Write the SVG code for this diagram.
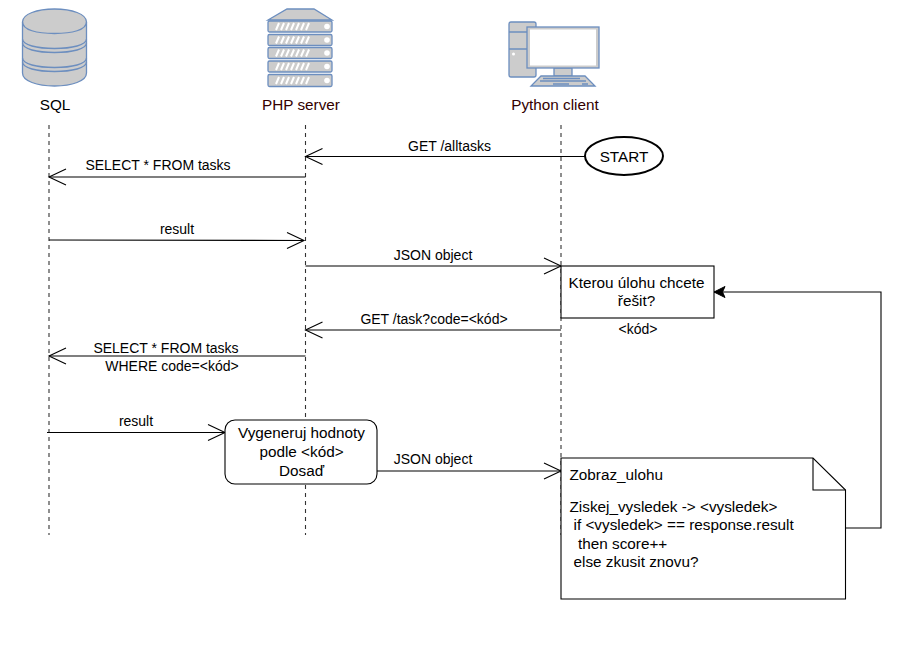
<svg xmlns="http://www.w3.org/2000/svg" width="918" height="663" viewBox="0 0 918 663">
<defs>
<marker id="open" markerUnits="userSpaceOnUse" markerWidth="20" markerHeight="20" refX="17" refY="8" orient="auto" overflow="visible"><path d="M0 0L17 8L0 16" fill="none" stroke="#000" stroke-width="1.1"/></marker>
<marker id="tri" markerUnits="userSpaceOnUse" markerWidth="14" markerHeight="14" refX="11" refY="5.500" orient="auto" overflow="visible"><path d="M0 0L11 5.500L0 11L2.500 5.500Z" fill="#000" stroke="#000"/></marker>
</defs>
<style>
text{font-family:"Liberation Sans",Arial,sans-serif;font-size:15.3px;fill:#000}
.m{text-anchor:middle}
.s{font-size:14px}
.dk{fill:#330000}
.life{stroke:#333;stroke-width:1.100;stroke-dasharray:4 4;fill:none}
.c{fill:none;stroke:#000;stroke-width:1.100}
.g{fill:#ccc;stroke:#6c8ebf;stroke-width:1.300}
.b{fill:#fff;stroke:#000;stroke-width:1.100}
.w{fill:#fff}
.h{stroke:#6c8ebf;stroke-width:1.300;fill:none}
</style>
<rect width="918" height="663" fill="#fff"/>
<g id="lifelines">
<path class="life" d="M49 125V535"/><path class="life" d="M305.500 125V535"/><path class="life" d="M561 125V535"/>
</g>
<g id="sql">
<path class="g" d="M22.500 22C22.500 14 37 9 54.500 9S86.500 14 86.500 22V73C86.500 81 72 86 54.500 86S22.500 81 22.500 73Z"/>
<path class="h" d="M22.500 22C22.500 30 37 33.500 54.500 33.500S86.500 30 86.500 22M22.500 39C22.500 45 37 48.500 54.500 48.500S86.500 45 86.500 39M22.500 43C22.500 49 37 52.500 54.500 52.500S86.500 49 86.500 43M22.500 58C22.500 64 37 67.500 54.500 67.500S86.500 64 86.500 58M22.500 62C22.500 68 37 71.500 54.500 71.500S86.500 68 86.500 62"/>
<text class="m" x="55" y="110">SQL</text>
</g>
<g id="php">
<path class="g" d="M268 20L287 9H314L332 20Z"/>
<rect class="g" x="268" y="21" width="64" height="11" rx="1.500"/><rect class="g" x="268" y="34.500" width="64" height="11" rx="1.500"/><rect class="g" x="268" y="47.500" width="64" height="11" rx="1.500"/><rect class="g" x="268" y="61" width="64" height="11" rx="1.500"/><rect class="g" x="268" y="74.500" width="64" height="12" rx="1.500"/>
<path d="M276 30l3-7M281 30l3-7M286 30l3-7M291 30l3-7M296 30l3-7M301 30l3-7M306 30l3-7M276 43.500l3-7M281 43.500l3-7M286 43.500l3-7M291 43.500l3-7M296 43.500l3-7M301 43.500l3-7M306 43.500l3-7M276 56.500l3-7M281 56.500l3-7M286 56.500l3-7M291 56.500l3-7M296 56.500l3-7M301 56.500l3-7M306 56.500l3-7M276 70l3-7M281 70l3-7M286 70l3-7M291 70l3-7M296 70l3-7M301 70l3-7M306 70l3-7M276 84l3-7M281 84l3-7M286 84l3-7M291 84l3-7M296 84l3-7M301 84l3-7M306 84l3-7" stroke="#fff" stroke-width="2" fill="none"/>
<circle class="w" cx="327" cy="26.500" r="2.800"/><circle class="w" cx="327" cy="40" r="2.800"/><circle class="w" cx="327" cy="53" r="2.800"/><circle class="w" cx="327" cy="66.500" r="2.800"/><circle class="w" cx="327" cy="80.500" r="2.800"/>
<text class="m dk" x="301" y="110">PHP server</text>
</g>
<g id="python">
<path class="g" d="M509 24Q509 22 511 22H534Q536 22 536 24V75Q536 77 534 77H511Q509 77 509 75Z"/>
<path class="h" d="M509 32H527M509 49H527"/>
<circle class="w" cx="513.500" cy="54" r="1.500"/>
<rect class="g" x="554" y="68" width="18" height="8"/>
<rect class="g" x="527" y="27" width="72" height="41"/>
<rect class="w" x="530" y="29.500" width="66" height="36"/>
<path class="g" d="M541 76H585L595 86H531Z"/>
<path d="M543 78.500H580M540 81H586M553 84H569M582 84H588" stroke="#6c8ebf" stroke-width="1.300" fill="none"/>
<text class="m dk" x="555" y="110">Python client</text>
</g>
<g id="connectors">
<path class="c" d="M585 156.500H305.500" marker-end="url(#open)"/>
<path class="c" d="M305.500 177H49" marker-end="url(#open)"/>
<path class="c" d="M49 240L304 240.500" marker-end="url(#open)"/>
<path class="c" d="M305.500 266H561" marker-end="url(#open)"/>
<path class="c" d="M561 330H305.500" marker-end="url(#open)"/>
<path class="c" d="M305.500 356H49" marker-end="url(#open)"/>
<path class="c" d="M47 432.500H225" marker-end="url(#open)"/>
<path class="c" d="M377 471H561" marker-end="url(#open)"/>
<path class="c" d="M846 528H881V292H714" marker-end="url(#tri)"/>
</g>
<g id="start">
<ellipse cx="624" cy="156" rx="39" ry="19" fill="#fff" stroke="#000" stroke-width="2"/>
<text class="m" x="624" y="161.500">START</text>
</g>
<g id="question">
<rect class="b" x="561" y="266" width="153" height="52"/>
<text class="m" x="636.500" y="288">Kterou úlohu chcete</text>
<text class="m" x="636.500" y="306">řešit?</text>
</g>
<g id="generate">
<rect class="b" x="225" y="420" width="152" height="64" rx="10"/>
<text class="m" x="301.500" y="438">Vygeneruj hodnoty</text>
<text class="m" x="301.500" y="457">podle &lt;kód&gt;</text>
<text class="m" x="301.500" y="476">Dosaď</text>
</g>
<g id="note">
<path class="b" d="M561 458H813L845.500 490V599H561Z"/>
<path class="c" d="M813 458V490H845.500"/>
<text x="569.500" y="480">Zobraz_ulohu</text>
<text x="569.500" y="512">Ziskej_vysledek -&gt; &lt;vysledek&gt;</text>
<text x="573.500" y="530">if &lt;vysledek&gt; == response.result</text>
<text x="578" y="549">then score++</text>
<text x="573.500" y="567">else zkusit znovu?</text>
</g>
<g id="labels">
<text class="m s" x="449.500" y="151">GET /alltasks</text>
<text class="m s" x="158" y="170">SELECT * FROM tasks</text>
<text class="m s" x="177" y="234">result</text>
<text class="m s" x="433" y="260">JSON object</text>
<text class="m s" x="434" y="324">GET /task?code=&lt;kód&gt;</text>
<text class="m s" x="638" y="334">&lt;kód&gt;</text>
<text class="m s" x="166" y="353">SELECT * FROM tasks</text>
<text class="m s" x="172" y="371">WHERE code=&lt;kód&gt;</text>
<text class="m s" x="136" y="426">result</text>
<text class="m s" x="433" y="464">JSON object</text>
</g>
</svg>
